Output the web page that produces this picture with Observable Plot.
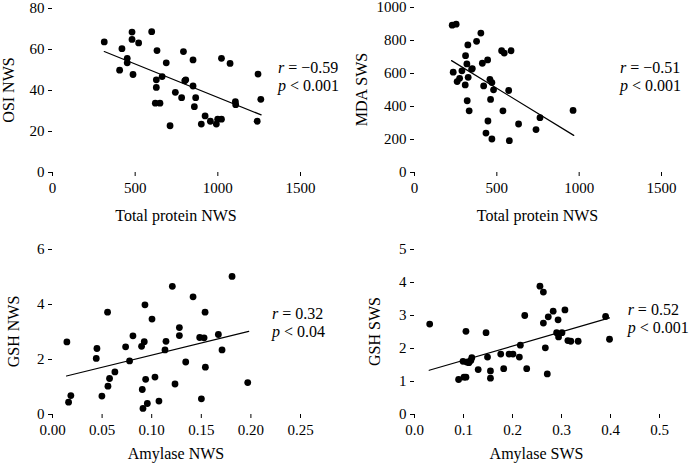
<!DOCTYPE html>
<html><head><meta charset="utf-8">
<script src="https://cdn.jsdelivr.net/npm/d3@7"></script>
<script src="https://cdn.jsdelivr.net/npm/@observablehq/plot@0.6"></script>
<style>
body{margin:0;background:#fff;}
#wrap{position:relative;width:692px;height:464px;background:#fff;overflow:hidden;}
.panel{position:absolute;width:346px;height:232px;}
.panel svg, .panel svg text{font-family:"Liberation Serif","Times New Roman",serif;}
</style></head><body><div id="wrap"></div>
<script>
// Panel A: Total protein NWS vs OSI NWS
const protA = [313,420,406,452,452,481,481,487,521,600,632,628,628,622,650,663,688,743,781,792,800,806,850,850,866,858,711,923,900,955,991,999,1022,1022,1074,1106,1108,1243,1260,1238];
const osiA  = [63.7,60.4,49.9,55.7,53.5,68.5,64.9,47.8,63.2,68.7,59.5,45.2,41.5,33.8,33.8,46.8,53.5,39.1,36.5,59.0,44.7,45.2,54.9,42.2,36.5,32.1,22.8,27.6,23.6,25.0,23.6,26.0,26.0,55.7,53.2,34.6,33.1,48.0,35.7,25.0];
const fitAx = [313,1262], fitAy = [59.0,28.1];
// Panel B: Total protein NWS vs MDA SWS
const protB = [229,253,403,324,377,586,529,545,310,412,444,318,351,347,288,235,274,259,326,308,420,458,470,480,572,320,462,332,537,762,963,446,632,738,434,470,576];
const mdaB  = [893,899,845,773,795,738,738,724,708,662,682,658,630,626,616,608,571,551,577,531,525,565,545,501,497,435,443,374,374,332,376,312,294,260,239,203,193];
const fitBx = [225,967], fitBy = [678,225];
// Panel C: Amylase NWS vs GSH NWS
const amyC = [0.0145,0.0162,0.0185,0.0448,0.0441,0.0555,0.0498,0.0559,0.0575,0.0629,0.0737,0.0777,0.0811,0.0898,0.0925,0.0932,0.0905,0.0912,0.0939,0.0956,0.1003,0.1033,0.1073,0.1134,0.1144,0.1208,0.1235,0.1279,0.1279,0.1343,0.1417,0.1484,0.1528,0.1501,0.1538,0.1541,0.1672,0.1709,0.1810,0.1968];
const gshC = [2.64,0.45,0.69,2.40,2.04,3.72,0.67,1.03,1.31,1.55,2.46,1.95,2.86,2.48,2.65,3.99,0.91,0.22,1.28,0.40,3.47,1.36,0.49,2.35,2.66,4.66,1.11,3.16,2.87,1.91,4.28,2.80,2.79,0.57,3.72,1.72,2.91,2.35,5.02,1.16];
const fitCx = [0.0141,0.1978], fitCy = [1.40,3.02];
// Panel D: Amylase SWS vs GSH SWS
const amyD = [0.031,0.090,0.099,0.101,0.105,0.105,0.1065,0.111,0.115,0.117,0.130,0.146,0.149,0.155,0.155,0.176,0.182,0.193,0.201,0.214,0.216,0.225,0.229,0.256,0.263,0.263,0.267,0.271,0.273,0.283,0.293,0.290,0.294,0.301,0.307,0.313,0.319,0.334,0.390,0.398];
const gshD = [2.74,1.06,1.61,1.13,1.13,2.52,1.59,1.57,1.64,1.72,1.36,2.48,1.74,1.32,1.10,1.83,1.39,1.83,1.83,1.74,2.10,3.00,1.39,3.89,3.71,2.77,2.02,1.23,2.96,3.13,2.87,2.48,2.35,2.48,3.17,2.24,2.22,2.22,2.97,2.28];
const fitDx = [0.030,0.398], fitDy = [1.34,2.93];

const xLabels = ["Total protein NWS","Total protein NWS","Amylase NWS","Amylase SWS"];
const yLabels = ["OSI NWS","MDA SWS","GSH NWS","GSH SWS"];
const rTexts = ["= \u22120.59","= \u22120.51","= 0.32","= 0.52"];
const pTexts = ["< 0.001","< 0.001","< 0.04","< 0.001"];
const statX = [1367,1251,0.2218,0.436];
const statY = [51.2,636,3.67,3.18];

const FONT = '"Liberation Serif","Times New Roman",serif';

const panels = [
  {xs:protA, ys:osiA, fx:fitAx, fy:fitAy, xd:[0,1500], xt:[0,500,1000,1500], xf:d=>String(d), yd:[0,80], yt:[0,20,40,60,80], m:[8,46,60,52], pos:[0,0], xTitle:43, yTitle:8},
  {xs:protB, ys:mdaB, fx:fitBx, fy:fitBy, xd:[0,1500], xt:[0,500,1000,1500], xf:d=>String(d), yd:[0,1000], yt:[0,200,400,600,800,1000], m:[7,31,60,68], pos:[346,0], xTitle:43, yTitle:15},
  {xs:amyC, ys:gshC, fx:fitCx, fy:fitCy, xd:[0,0.25], xt:[0,0.05,0.1,0.15,0.2,0.25], xf:d3.format(".2f"), yd:[0,6], yt:[0,2,4,6], m:[17,46,50,52], pos:[0,232], xTitle:39, yTitle:13},
  {xs:amyD, ys:gshD, fx:fitDx, fy:fitDy, xd:[0,0.5], xt:[0,0.1,0.2,0.3,0.4,0.5], xf:d3.format(".1f"), yd:[0,5], yt:[0,1,2,3,4,5], m:[17,33,50,68], pos:[346,232], xTitle:39, yTitle:28}
];

const wrap = document.getElementById("wrap");
panels.forEach((P, i) => {
  const [mt, mr, mb, ml] = P.m;
  const labelsMark = (index, scales, values, dims) => {
    const g = d3.create("svg:g").attr("font-family", FONT).attr("fill", "black");
    const cx = (dims.marginLeft + dims.width - dims.marginRight) / 2;
    const cy = (dims.marginTop + dims.height - dims.marginBottom) / 2;
    g.append("text").attr("x", cx).attr("y", dims.height - dims.marginBottom + P.xTitle)
      .attr("text-anchor", "middle").attr("dominant-baseline", "central")
      .attr("font-size", 16).text(xLabels[i]);
    g.append("text").attr("transform", `translate(${P.yTitle},${cy}) rotate(-90)`)
      .attr("text-anchor", "middle").attr("dominant-baseline", "central")
      .attr("font-size", 16).text(yLabels[i]);
    const sx = scales.x(statX[i]), sy = scales.y(statY[i]);
    const t1 = g.append("text").attr("x", sx).attr("y", sy).attr("text-anchor", "start").attr("dominant-baseline", "central").attr("font-size", 16);
    t1.append("tspan").attr("font-style", "italic").text("r");
    t1.append("tspan").text(" " + rTexts[i]);
    const t2 = g.append("text").attr("x", sx).attr("y", sy + 18).attr("text-anchor", "start").attr("dominant-baseline", "central").attr("font-size", 16);
    t2.append("tspan").attr("font-style", "italic").text("p");
    t2.append("tspan").text(" " + pTexts[i]);
    return g.node();
  };
  const chart = Plot.plot({
    width: 346, height: 232,
    marginTop: mt, marginRight: mr, marginBottom: mb, marginLeft: ml,
    style: {fontFamily: FONT, fontSize: "15px", background: "transparent", overflow: "visible"},
    x: {domain: P.xd},
    y: {domain: P.yd},
    marks: [
      Plot.axisX({ticks: P.xt, tickFormat: P.xf, tickSize: 4, tickPadding: 6, line: true, label: null, fontSize: 15, fontFamily: FONT}),
      Plot.axisY({ticks: P.yt, tickFormat: d => String(d), tickSize: 4, tickPadding: 4, line: true, label: null, fontSize: 15, fontFamily: FONT}),
      Plot.line(P.fx.map((x, k) => ({x, y: P.fy[k]})), {x: "x", y: "y", stroke: "black", strokeWidth: 1.2}),
      Plot.dot(P.xs.map((x, k) => ({x, y: P.ys[k]})), {x: "x", y: "y", r: 3.4, fill: "black", stroke: "none"}),
      labelsMark
    ]
  });
  const div = document.createElement("div");
  div.className = "panel";
  div.style.left = P.pos[0] + "px";
  div.style.top = P.pos[1] + "px";
  div.appendChild(chart);
  wrap.appendChild(div);
});
</script>
</body></html>
